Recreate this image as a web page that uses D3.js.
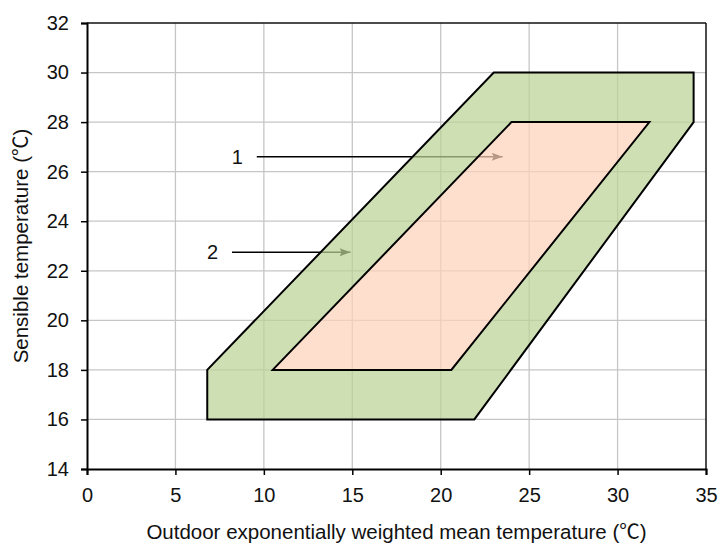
<!DOCTYPE html>
<html>
<head>
<meta charset="utf-8">
<script src="https://cdn.jsdelivr.net/npm/d3@7"></script>
<style>
  body { margin: 0; background: #fff; }
  svg { display: block; font-family: "Liberation Sans", Arial, sans-serif; }
  .cjk { font-family: "Noto Sans CJK SC", sans-serif; }
</style>
</head>
<body>
<svg width="721" height="547"></svg>
<script>
// zones (outdoor temp, sensible temp)
var outerZone = [[6.8, 16], [6.8, 18], [23.0, 30], [34.3, 30], [34.3, 28], [21.9, 16]];
var innerZone = [[10.5, 18], [24.0, 28], [31.8, 28], [20.6, 18]];

var xTicks = [0, 5, 10, 15, 20, 25, 30, 35];
var yTicks = [14, 16, 18, 20, 22, 24, 26, 28, 30, 32];

// leader arrows: label, start x, end x, y
var arrowLabels = ["1", "2"];
var arrowX0 = [9.6, 8.2];
var arrowX1 = [23.5, 14.9];
var arrowY = [26.6, 22.75];

var svg = d3.select("svg"),
    margin = {left: 87, right: 15, top: 23, bottom: 78},
    width = +svg.attr("width"),
    height = +svg.attr("height");

var x = d3.scaleLinear().domain([0, 35]).range([margin.left, width - margin.right]);
var y = d3.scaleLinear().domain([14, 32]).range([height - margin.bottom, margin.top]);

svg.append("defs").append("marker")
    .attr("id", "head")
    .attr("viewBox", "0 -5 12 10")
    .attr("refX", 12)
    .attr("refY", 0)
    .attr("markerWidth", 13)
    .attr("markerHeight", 9)
    .attr("markerUnits", "userSpaceOnUse")
    .attr("orient", "auto")
  .append("path")
    .attr("d", "M0,-4.5L12,0L0,4.5L2,0Z")
    .attr("fill", "#000");

// grid
svg.append("g").selectAll("line").data(xTicks.slice(1, -1))
  .enter().append("line")
    .attr("x1", function(d) { return x(d); })
    .attr("x2", function(d) { return x(d); })
    .attr("y1", y(14)).attr("y2", y(32))
    .attr("stroke", "#c6c6c6").attr("stroke-width", 1.3);

svg.append("g").selectAll("line").data(yTicks.slice(1, -1))
  .enter().append("line")
    .attr("y1", function(d) { return y(d); })
    .attr("y2", function(d) { return y(d); })
    .attr("x1", x(0)).attr("x2", x(35))
    .attr("stroke", "#c6c6c6").attr("stroke-width", 1.3);

// arrows (under the zones, so they look washed out inside)
svg.append("g").selectAll("line").data(arrowLabels)
  .enter().append("line")
    .attr("x1", function(d, i) { return x(arrowX0[i]); })
    .attr("x2", function(d, i) { return x(arrowX1[i]); })
    .attr("y1", function(d, i) { return y(arrowY[i]); })
    .attr("y2", function(d, i) { return y(arrowY[i]); })
    .attr("stroke", "#000").attr("stroke-width", 1.6)
    .attr("marker-end", "url(#head)");

svg.append("g").selectAll("text").data(arrowLabels)
  .enter().append("text")
    .attr("x", function(d, i) { return x(arrowX0[i]) - 14; })
    .attr("y", function(d, i) { return y(arrowY[i]); })
    .attr("dy", "0.36em")
    .attr("text-anchor", "end")
    .style("font-size", "20px")
    .attr("fill", "#111")
    .text(function(d) { return d; });

var line = d3.line().x(function(d) { return x(d[0]); }).y(function(d) { return y(d[1]); });

// green ring only (inner cut out)
svg.append("path")
    .attr("d", line(outerZone) + "Z" + line(innerZone.slice().reverse()) + "Z")
    .attr("fill-rule", "evenodd")
    .attr("fill", "rgb(189,211,151)").attr("fill-opacity", 0.72)
    .attr("stroke", "none");

svg.append("path")
    .attr("d", line(innerZone) + "Z")
    .attr("fill", "rgb(253,210,186)").attr("fill-opacity", 0.72)
    .attr("stroke", "#000").attr("stroke-width", 2);

svg.append("path")
    .attr("d", line(outerZone) + "Z")
    .attr("fill", "none")
    .attr("stroke", "#000").attr("stroke-width", 2);

// frame
svg.append("line").attr("x1", x(0)).attr("x2", x(35)).attr("y1", y(32)).attr("y2", y(32))
    .attr("stroke", "#111").attr("stroke-width", 1.5);
svg.append("line").attr("x1", x(35)).attr("x2", x(35)).attr("y1", y(32)).attr("y2", y(14))
    .attr("stroke", "#111").attr("stroke-width", 1.5);

var xAxis = svg.append("g")
    .attr("transform", "translate(0," + y(14) + ")")
    .call(d3.axisBottom(x).tickValues(xTicks).tickSizeOuter(0).tickSize(6).tickPadding(13));
var yAxis = svg.append("g")
    .attr("transform", "translate(" + x(0) + ",0)")
    .call(d3.axisLeft(y).tickValues(yTicks).tickSizeOuter(0).tickSize(6).tickPadding(12));

[xAxis, yAxis].forEach(function(g) {
  g.attr("font-size", null).attr("font-family", null);
  g.select(".domain").attr("stroke", "#000").attr("stroke-width", 2);
  g.selectAll(".tick line").attr("stroke", "#000").attr("stroke-width", 1.5);
  g.selectAll(".tick text").style("font-size", "20px").attr("fill", "#111");
});

var xTitle = svg.append("text")
    .attr("x", (x(0) + x(35)) / 2)
    .attr("y", 539)
    .attr("text-anchor", "middle")
    .style("font-size", "20.5px")
    .attr("fill", "#111");
xTitle.append("tspan").text("Outdoor exponentially weighted mean temperature (");
xTitle.append("tspan").attr("class", "cjk").text("℃");
xTitle.append("tspan").text(")");

var yTitle = svg.append("text")
    .attr("transform", "translate(28," + ((y(14) + y(32)) / 2) + ") rotate(-90)")
    .attr("text-anchor", "middle")
    .style("font-size", "20.5px")
    .attr("fill", "#111");
yTitle.append("tspan").text("Sensible temperature (");
yTitle.append("tspan").attr("class", "cjk").text("℃");
yTitle.append("tspan").text(")");
</script>
</body>
</html>
